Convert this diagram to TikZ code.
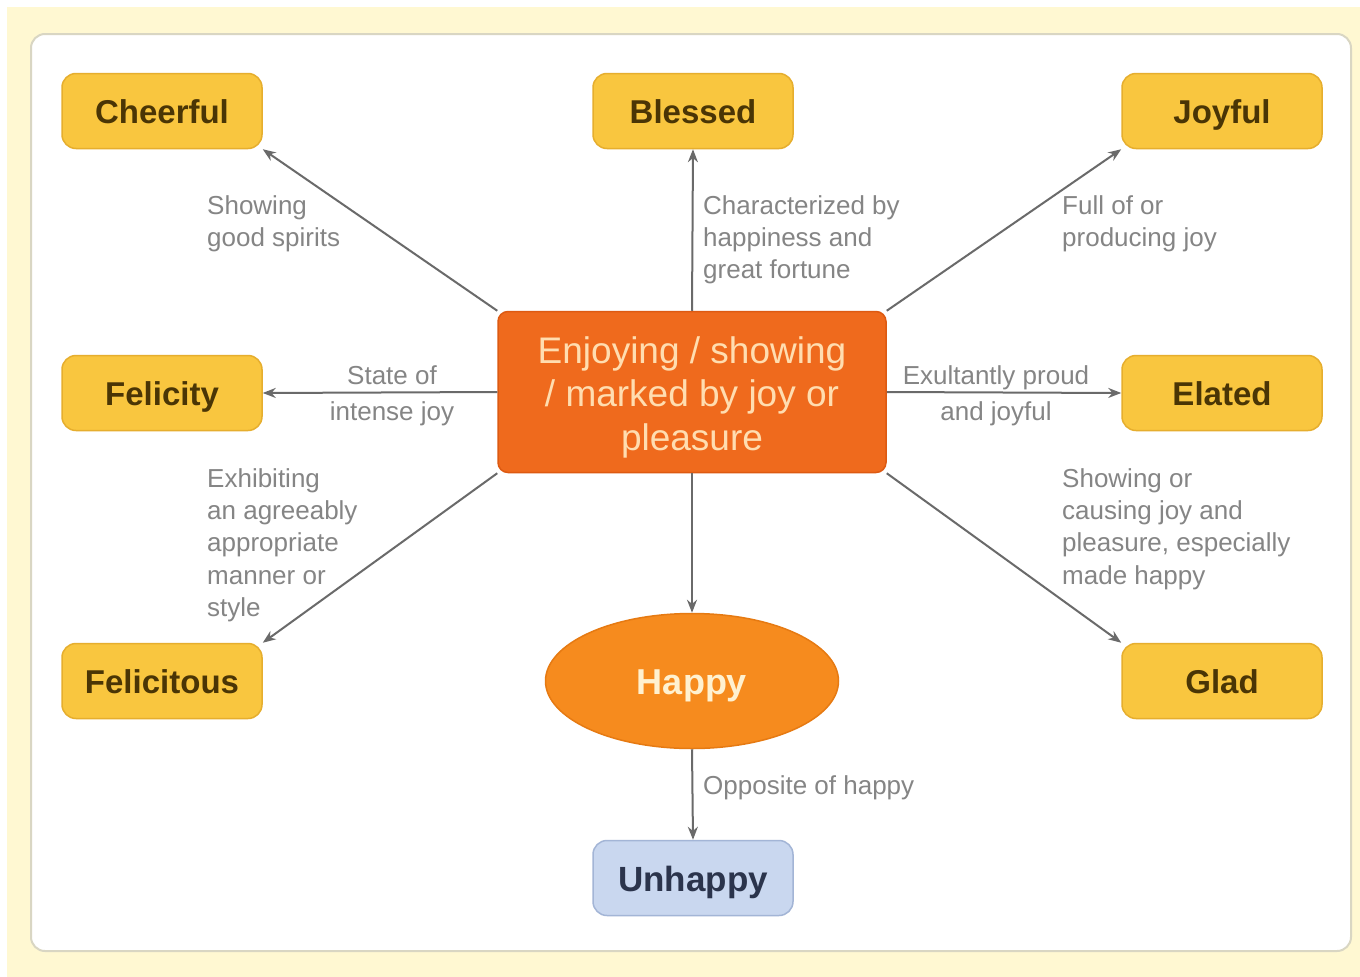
\documentclass[tikz,border=0pt]{standalone}
\usepackage{fontspec}
\setmainfont{Liberation Sans}
\usetikzlibrary{shapes.geometric,arrows.meta}
\definecolor{outerbg}{HTML}{FFF8D2}
\definecolor{paneledge}{HTML}{D9D6C3}
\definecolor{termfill}{HTML}{F9C63F}
\definecolor{termedge}{HTML}{E6AE2E}
\definecolor{termtext}{HTML}{4A3505}
\definecolor{hubfill}{HTML}{EF6A1D}
\definecolor{hubedge}{HTML}{DD5A12}
\definecolor{hubtext}{HTML}{FFDDB0}
\definecolor{happyfill}{HTML}{F68B1E}
\definecolor{happyedge}{HTML}{E67A12}
\definecolor{happytext}{HTML}{FFF1D0}
\definecolor{unfill}{HTML}{C9D7EF}
\definecolor{unedge}{HTML}{A3B5D6}
\definecolor{untext}{HTML}{2B344C}
\definecolor{linkgray}{HTML}{6A6A6A}
\definecolor{notegray}{HTML}{858585}
\begin{document}
\begin{tikzpicture}[x=1pt,y=-1pt,
  term/.style={draw=termedge,fill=termfill,line width=1.5pt,rounded corners=14pt,
    minimum width=200pt,minimum height=75pt,inner sep=0pt,
    text height=25pt,text depth=0pt,
    font=\fontsize{33}{38}\selectfont\bfseries,text=termtext},
  hub/.style={draw=hubedge,fill=hubfill,line width=1.5pt,rounded corners=10pt,
    minimum width=388pt,minimum height=161pt,inner sep=0pt,align=center,
    font=\fontsize{37}{43.5}\selectfont,text=hubtext},
  happynode/.style={ellipse,draw=happyedge,fill=happyfill,line width=1.5pt,
    minimum width=293pt,minimum height=135pt,inner sep=0pt,
    text height=26.5pt,text depth=0pt,
    font=\fontsize{36}{40}\selectfont\bfseries,text=happytext},
  opposite/.style={draw=unedge,fill=unfill,line width=1.5pt,rounded corners=14pt,
    minimum width=200pt,minimum height=75pt,inner sep=0pt,
    text height=26pt,text depth=0pt,
    font=\fontsize{35}{40}\selectfont\bfseries,text=untext},
  link/.style={draw=linkgray,line width=2pt,-{Stealth[length=13pt,width=10pt]}},
  note/.style={inner sep=0pt,text=notegray,font=\fontsize{26}{32.4}\selectfont},
]
\useasboundingbox (0,0) rectangle (1360,977);
% page background and white panel
\fill[outerbg] (7,7) rectangle (1360,977);
\draw[paneledge,fill=white,line width=2pt,rounded corners=14pt] (31,34) rectangle (1351,951);

% nodes
\node[hub] (hub) at (692,392) {\rule{0pt}{37pt}Enjoying / showing\\/ marked by joy or\\pleasure};
\node[term] (cheerful) at (162,111) {Cheerful};
\node[term] (blessed) at (693,111) {Blessed};
\node[term] (joyful) at (1222,111) {Joyful};
\node[term] (felicity) at (162,393) {Felicity};
\node[term] (elated) at (1222,393) {Elated};
\node[term] (felicitous) at (162,681) {Felicitous};
\node[term] (glad) at (1222,681) {Glad};
\node[happynode] (happy) at (692,681) {Happy};
\node[opposite] (unhappy) at (693,878) {Unhappy};

% connectors
\draw[link] (hub.north west) -- (cheerful.south east);
\draw[link] (hub.north) -- (blessed.south);
\draw[link] (hub.north east) -- (joyful.south west);
\draw[link] (hub.west) -- (felicity.east);
\draw[link] (hub.east) -- (elated.west);
\draw[link] (hub.south west) -- (felicitous.north east);
\draw[link] (hub.south east) -- (glad.north west);
\draw[link] (hub.south) -- (happy.north);
\draw[link] (happy.south) -- (unhappy.north);

% connector notes
\node[note,anchor=north west,align=left] (n1) at (207,195) {Showing\\good spirits};
\node[note,anchor=north west,align=left] (n2) at (703,195) {Characterized by\\happiness and\\great fortune};
\node[note,anchor=north west,align=left] (n3) at (1062,195) {Full of or\\producing joy};
\node[note,anchor=north,align=center,font=\fontsize{26}{36}\selectfont] (n4) at (392,365) {State of\\intense joy};
\node[note,anchor=north,align=center,font=\fontsize{26}{36}\selectfont] (n5) at (996,365) {Exultantly proud\\and joyful};
\node[note,anchor=north west,align=left] (n6) at (207,468) {Exhibiting\\an agreeably\\appropriate\\manner or\\style};
\node[note,anchor=north west,align=left] (n7) at (1062,468) {Showing or\\causing joy and\\pleasure, especially\\made happy};
\node[note,anchor=north west,align=left] (n8) at (703,775) {Opposite of happy};
\end{tikzpicture}
\end{document}
